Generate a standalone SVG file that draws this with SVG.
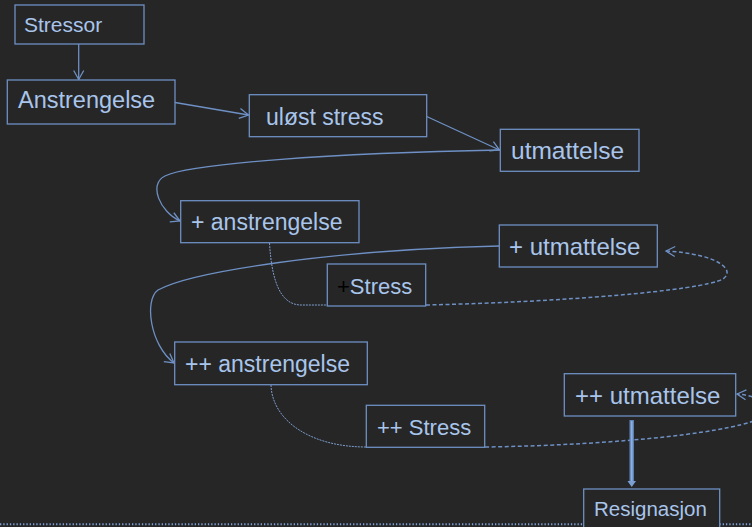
<svg xmlns="http://www.w3.org/2000/svg" width="752" height="527" viewBox="0 0 752 527">
<style>
.box{fill:#262626;stroke:#6e90c4;stroke-width:1.3}
.lbl{font-family:"Liberation Sans",Arial,sans-serif;fill:#a9c5eb}
.c{fill:none;stroke:#6e90c4;stroke-width:1.3}
.dash{fill:none;stroke:#6e90c4;stroke-width:1.5;stroke-dasharray:4 2.5}
.dot{fill:none;stroke:#7f9fcf;stroke-width:1;stroke-dasharray:2 1}
</style>
<defs>
<marker id="arr" markerUnits="userSpaceOnUse" markerWidth="12" markerHeight="12" refX="10" refY="6" orient="auto">
<path d="M1,1 L10,6 L1,11" fill="none" stroke="#6e90c4" stroke-width="1.3"/>
</marker>
</defs>
<rect width="752" height="527" fill="#262626"/>
<g id="connectors">
<line class="c" x1="78.7" y1="44" x2="78.7" y2="79.5" marker-end="url(#arr)"/>
<line class="c" x1="175" y1="102.5" x2="248.5" y2="115" marker-end="url(#arr)"/>
<line class="c" x1="426.7" y1="116.5" x2="499.5" y2="150" marker-end="url(#arr)"/>
<path class="c" d="M500,150 C330,153 190,164 165,176 C148,184 160,212 180,221" marker-end="url(#arr)"/>
<path class="dot" d="M269.5,243 C272,285 282,304 300,305 L327,305"/>
<path class="dash" d="M426,305 C560,302 700,291 723,279 C736,270 718,254 666,251" marker-end="url(#arr)"/>
<path class="c" d="M499,246 C330,250 190,272 158,290 C144,300 150,345 174,363" marker-end="url(#arr)"/>
<path class="dot" d="M271,385 C272,420 310,447 366,447"/>
<path class="dash" d="M485,447 C620,445 740,432 765,416 C775,405 760,396 737,394" marker-end="url(#arr)"/>
<line x1="631.7" y1="420" x2="631.7" y2="482" stroke="#5f82b8" stroke-width="4.5"/>
<line x1="631.7" y1="421" x2="631.7" y2="482" stroke="#8cafe0" stroke-width="1.8"/>
<polygon points="627.5,481 636,481 631.7,487" fill="#7c9fd2"/>
<line x1="0" y1="524.3" x2="752" y2="524.3" stroke="#7da0d4" stroke-width="2" stroke-dasharray="1.3 2"/>
</g>
<g id="stressor"><rect class="box" x="15" y="5" width="129" height="39"/><text class="lbl" x="24" y="32" font-size="21">Stressor</text></g>
<g id="anstrengelse"><rect class="box" x="7.3" y="80" width="167.7" height="44"/><text class="lbl" x="18" y="108" font-size="23.5">Anstrengelse</text></g>
<g id="ulost-stress"><rect class="box" x="249.3" y="94.7" width="177.4" height="42"/><text class="lbl" x="266" y="125" font-size="23">uløst stress</text></g>
<g id="utmattelse"><rect class="box" x="500.3" y="129.3" width="138.7" height="42"/><text class="lbl" x="511" y="159" font-size="24.5">utmattelse</text></g>
<g id="plus-anstrengelse"><rect class="box" x="180.7" y="200.7" width="178.3" height="42"/><text class="lbl" x="191" y="230" font-size="23">+ anstrengelse</text></g>
<g id="plus-utmattelse"><rect class="box" x="499.3" y="225" width="158" height="42"/><text class="lbl" x="509" y="255" font-size="24">+ utmattelse</text></g>
<g id="plus-stress"><rect class="box" x="327.3" y="264" width="98.4" height="42"/><text class="lbl" x="337" y="294" font-size="22"><tspan fill="#000000">+</tspan>Stress</text></g>
<g id="plusplus-anstrengelse"><rect class="box" x="174.7" y="342" width="192.6" height="42.7"/><text class="lbl" x="185" y="371.7" font-size="23">++ anstrengelse</text></g>
<g id="plusplus-utmattelse"><rect class="box" x="564.3" y="373.7" width="171.4" height="42.3"/><text class="lbl" x="575" y="404" font-size="24">++ utmattelse</text></g>
<g id="plusplus-stress"><rect class="box" x="366.3" y="405.3" width="118.4" height="42"/><text class="lbl" x="377" y="435.3" font-size="22">++ Stress</text></g>
<g id="resignasjon"><rect class="box" x="583.7" y="489" width="136" height="42"/><text class="lbl" x="594" y="516" font-size="20.5">Resignasjon</text></g>
</svg>
